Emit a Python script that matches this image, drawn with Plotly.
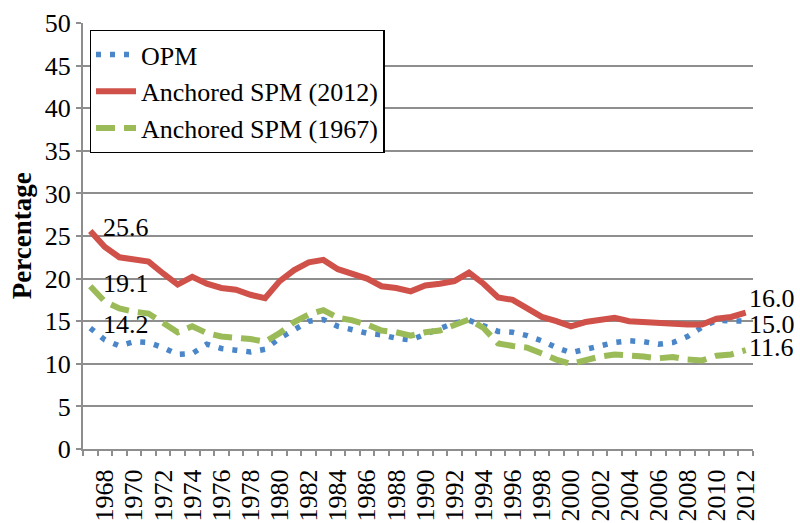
import plotly.graph_objects as go

years = [1967, 1968, 1969, 1970, 1971, 1972, 1973, 1974, 1975, 1976,
         1977, 1978, 1979, 1980, 1981, 1982, 1983, 1984, 1985, 1986,
         1987, 1988, 1989, 1990, 1991, 1992, 1993, 1994, 1995, 1996,
         1997, 1998, 1999, 2000, 2001, 2002, 2003, 2004, 2005, 2006,
         2007, 2008, 2009, 2010, 2011, 2012]

opm = [14.2, 12.8, 12.1, 12.6, 12.5, 11.9, 11.1, 11.2, 12.3, 11.8,
       11.6, 11.4, 11.7, 13.0, 14.0, 15.0, 15.2, 14.4, 14.0, 13.6,
       13.4, 13.0, 12.8, 13.5, 14.2, 14.8, 15.1, 14.5, 13.8, 13.7,
       13.3, 12.7, 11.9, 11.3, 11.7, 12.1, 12.5, 12.7, 12.6, 12.3,
       12.5, 13.2, 14.3, 15.1, 15.0, 15.0]

spm2012 = [25.6, 23.7, 22.5, 22.2, 22.0, 20.6, 19.3, 20.2, 19.4, 18.9,
           18.7, 18.1, 17.7, 19.7, 21.0, 21.9, 22.2, 21.1, 20.6, 20.0,
           19.1, 18.9, 18.5, 19.2, 19.4, 19.7, 20.7, 19.4, 17.8, 17.5,
           16.5, 15.5, 15.0, 14.4, 14.9, 15.2, 15.4, 15.0, 14.9, 14.7,
           14.7, 14.6, 14.6, 15.3, 15.5, 16.0]

spm1967 = [19.1, 17.3, 16.5, 16.1, 15.9, 14.8, 13.7, 14.4, 13.6, 13.2,
           13.1, 12.9, 12.6, 13.6, 14.9, 15.8, 16.3, 15.4, 15.1, 14.6,
           13.9, 13.7, 13.3, 13.7, 13.9, 14.5, 15.2, 14.2, 12.4, 12.1,
           11.9, 11.2, 10.5, 10.0, 10.5, 10.85, 11.1, 11.05, 10.85, 10.65,
           10.8, 10.5, 10.4, 10.95, 11.1, 11.6]

tick_years = [1968, 1970, 1972, 1974, 1976, 1978, 1980, 1982, 1984, 1986,
              1988, 1990, 1992, 1994, 1996, 1998, 2000, 2002, 2004, 2006,
              2008, 2010, 2012]

series_names = ["OPM", "Anchored SPM (2012)", "Anchored SPM (1967)"]

FONT = "Liberation Serif"
GRID = "#8e8e8e"

fig = go.Figure()
fig.add_trace(go.Scatter(x=years, y=opm, mode="lines", name=series_names[0],
                         line=dict(color="#4a86c8", width=5.5, dash="5px,9px")))
fig.add_trace(go.Scatter(x=years, y=spm2012, mode="lines", name=series_names[1],
                         line=dict(color="#cf5149", width=6)))
fig.add_trace(go.Scatter(x=years, y=spm1967, mode="lines", name=series_names[2],
                         line=dict(color="#9bbb59", width=6, dash="19px,9px")))

# data labels at start and end of each series
label_specs = [
    (years[0], spm2012[0], 11, 3),
    (years[0], spm1967[0], 11, 3),
    (years[0], opm[0], 11, 4),
    (years[-1], spm2012[-1], 1, 14),
    (years[-1], opm[-1], 1, -3),
    (years[-1], spm1967[-1], 1, 3),
]
for x, y, xs, ys in label_specs:
    fig.add_annotation(x=x, y=y, text=f"{y:.1f}", showarrow=False,
                       xanchor="left", yanchor="middle", xshift=xs, yshift=ys,
                       font=dict(family=FONT, size=26, color="black"))

fig.add_annotation(text="<b>Percentage</b>", xref="paper", yref="paper",
                   x=-0.0906, y=0.5, textangle=-90, showarrow=False,
                   xanchor="center", yanchor="middle",
                   font=dict(family=FONT, size=27, color="black"))

fig.update_layout(
    width=800, height=523,
    margin=dict(l=83, r=47, t=23, b=74),
    paper_bgcolor="white", plot_bgcolor="white",
    font=dict(family=FONT, size=26, color="black"),
    showlegend=True,
    legend=dict(x=0.01, y=0.984, xanchor="left", yanchor="top",
                bgcolor="white", bordercolor="black", borderwidth=1.3,
                font=dict(family=FONT, size=26, color="black"),
                itemwidth=40, tracegroupgap=0),
    xaxis=dict(range=[1966.5, 2012.5], tickmode="array", tickvals=tick_years,
               ticktext=[str(t) for t in tick_years], tickangle=-90,
               ticks="outside", ticklen=8, tickcolor="rgba(0,0,0,0)",
               showgrid=False, showline=True, linecolor=GRID, linewidth=2,
               zeroline=False, automargin=False,
               minor=dict(tickmode="linear", tick0=1966.5, dtick=1,
                          ticks="outside", ticklen=5, tickwidth=1.5,
                          tickcolor=GRID, showgrid=False),
               tickfont=dict(family=FONT, size=26, color="black")),
    yaxis=dict(range=[0, 50], tickmode="linear", tick0=0, dtick=5,
               showgrid=True, gridcolor=GRID, gridwidth=2,
               showline=True, linecolor=GRID, linewidth=2, zeroline=False,
               automargin=False,
               ticks="outside", ticklen=5, tickwidth=1.5, tickcolor=GRID,
               tickfont=dict(family=FONT, size=26, color="black")),
)

fig.write_html("out.html",
               config={"displayModeBar": False},
               post_script="document.body.style.margin='0';"
                           "document.body.style.padding='0';")
